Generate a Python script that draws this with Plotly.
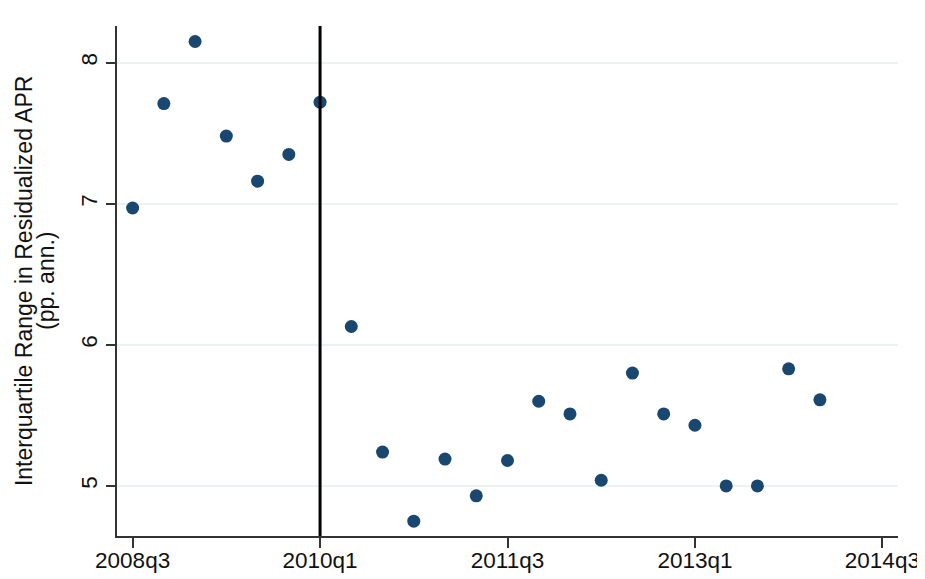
import plotly.graph_objects as go

quarters = ["2008q3", "2008q4", "2009q1", "2009q2", "2009q3", "2009q4",
            "2010q1", "2010q2", "2010q3", "2010q4", "2011q1", "2011q2",
            "2011q3", "2011q4", "2012q1", "2012q2", "2012q3", "2012q4",
            "2013q1", "2013q2", "2013q3", "2013q4", "2014q1"]
iqr_values = [6.97, 7.71, 8.15, 7.48, 7.16, 7.35,
              7.72, 6.13, 5.24, 4.75, 5.19, 4.93,
              5.18, 5.60, 5.51, 5.04, 5.80, 5.51,
              5.43, 5.00, 5.00, 5.83, 5.61]
tick_labels = ["2008q3", "2010q1", "2011q3", "2013q1", "2014q3"]
y_ticks = [5, 6, 7, 8]
event_quarter = "2010q1"
y_title_line1 = "Interquartile Range in Residualized APR"
y_title_line2 = "(pp. ann.)"


def qindex(q):
    y, n = q.split("q")
    return (int(y) * 4 + int(n)) - (2008 * 4 + 3)


x_vals = [qindex(q) for q in quarters]
tick_vals = [qindex(q) for q in tick_labels]

FONT = "Liberation Sans, Arial, Helvetica, sans-serif"
NAVY = "#1a476f"
AXIS = "#333333"
GRID = "#eaf2f3"
TXT = "#111111"

fig = go.Figure()
fig.add_trace(go.Scatter(
    x=x_vals, y=iqr_values, mode="markers",
    marker=dict(color=NAVY, size=13, line=dict(width=0)),
    showlegend=False, hoverinfo="skip",
))

fig.add_shape(type="line", xref="x", yref="paper",
              x0=qindex(event_quarter), x1=qindex(event_quarter), y0=0, y1=1,
              line=dict(color="black", width=3), layer="above")

fig.add_annotation(text=y_title_line1, xref="paper", yref="paper",
                   x=-0.119, y=0.5, xanchor="center", yanchor="middle",
                   textangle=-90, showarrow=False,
                   font=dict(family=FONT, size=23, color=TXT))
fig.add_annotation(text=y_title_line2, xref="paper", yref="paper",
                   x=-0.091, y=0.5, xanchor="center", yanchor="middle",
                   textangle=-90, showarrow=False,
                   font=dict(family=FONT, size=23, color=TXT))

# page body has an 8px default margin; figure is sized to fit the window
fig.update_layout(
    width=917, height=571,
    margin=dict(l=109, r=27, t=18, b=43),
    paper_bgcolor="white", plot_bgcolor="white",
    font=dict(family=FONT, size=22, color=TXT),
    xaxis=dict(range=[-0.5, 24.5], tickvals=tick_vals, ticktext=tick_labels,
               automargin=False, ticklabelstandoff=-7,
               showgrid=False, zeroline=False, showline=True,
               linecolor=AXIS, linewidth=1.5, ticks="outside", ticklen=10,
               tickwidth=1.5, tickcolor=AXIS,
               tickfont=dict(family=FONT, size=22.5, color=TXT)),
    yaxis=dict(range=[4.645, 8.26], tickvals=y_ticks, tickangle=-90,
               automargin=False,
               showgrid=True, gridcolor=GRID, gridwidth=1.5, zeroline=False,
               showline=True, linecolor=AXIS, linewidth=1.5, ticks="outside",
               ticklen=9, tickwidth=1.5, tickcolor=AXIS,
               tickfont=dict(family=FONT, size=22.5, color=TXT)),
)

fig.write_html("out.html")
